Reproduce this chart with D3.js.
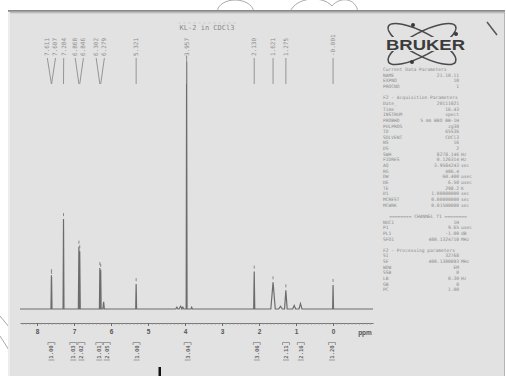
<!DOCTYPE html>
<html><head><meta charset="utf-8">
<script src="https://cdn.jsdelivr.net/npm/d3@7"></script>
<style>body{margin:0;background:#fff}svg{display:block}</style>
</head><body>
<script>
// ---------- data ----------
const title = "KL-2 in CDCl3";
const peakLabels = ["7.611","7.607","7.284","6.868","6.846","6.302","6.279","5.321","3.957","2.130","1.621","1.275","-0.001"];
const peakPpm    = [7.611, 7.607, 7.284, 6.868, 6.846, 6.302, 6.279, 5.321, 3.957, 2.130, 1.621, 1.275, -0.001];
const peakHeight = [38, 36, 101, 70, 65, 46, 44, 28, 278, 42, 30, 21, 27];
const peakWidth  = [0.012,0.012,0.012,0.015,0.015,0.012,0.012,0.012,0.012,0.015,0.06,0.035,0.012];
const minorPpm    = [6.20, 4.22, 4.12, 4.06, 3.82, 1.42, 1.05, 0.88];
const minorHeight = [8, 2, 3, 2, 2, 3, 4, 6];
const minorWidth  = [0.02, 0.03, 0.04, 0.03, 0.02, 0.05, 0.04, 0.04];
const axisTicks = [8,7,6,5,4,3,2,1,0];
const integralPpm    = [7.61, 7.02, 6.80, 6.31, 6.12, 5.31, 3.93, 2.06, 1.27, 0.87, 0.03];
const integralValues = ["1.00","1.03","2.02","1.01","2.05","1.00","3.04","3.06","2.11","2.16","1.20"];
const paramLines = [
  ["Current Data Parameters","",""],
  ["NAME","21.10.11",""],
  ["EXPNO","10",""],
  ["PROCNO","1",""],
  ["","",""],
  ["F2 - Acquisition Parameters","",""],
  ["Date_","20111021",""],
  ["Time","16.43",""],
  ["INSTRUM","spect",""],
  ["PROBHD","5 mm BBO BB-1H",""],
  ["PULPROG","zg30",""],
  ["TD","65536",""],
  ["SOLVENT","CDCl3",""],
  ["NS","16",""],
  ["DS","2",""],
  ["SWH","8278.146","Hz"],
  ["FIDRES","0.126314","Hz"],
  ["AQ","3.9584243","sec"],
  ["RG","406.4",""],
  ["DW","60.400","usec"],
  ["DE","6.50","usec"],
  ["TE","298.2","K"],
  ["D1","1.00000000","sec"],
  ["MCREST","0.00000000","sec"],
  ["MCWRK","0.01500000","sec"],
  ["","",""],
  ["======== CHANNEL f1 ========","",""],
  ["NUC1","1H",""],
  ["P1","9.65","usec"],
  ["PL1","-1.00","dB"],
  ["SFO1","400.1324710","MHz"],
  ["","",""],
  ["F2 - Processing parameters","",""],
  ["SI","32768",""],
  ["SF","400.1300093","MHz"],
  ["WDW","EM",""],
  ["SSB","0",""],
  ["LB","0.30","Hz"],
  ["GB","0",""],
  ["PC","1.00",""]
];

// ---------- drawing ----------
const W = 506, H = 376;
const svg = d3.select("body").append("svg").attr("width", W).attr("height", H);
const mono = "'DejaVu Sans Mono', 'Liberation Mono', monospace";

// watermark strokes outside the page
const wm = svg.append("g").attr("fill","none").attr("stroke","#a8a8a8").attr("stroke-width",1);
wm.append("path").attr("d","M217,12 C219,-4 251,-4 254,12");
wm.append("path").attr("d","M290,12 C296,-3 322,-5 332,6 C340,-4 356,-2 358,12");
wm.append("path").attr("d","M0,316 L9,327");
wm.append("path").attr("d","M0,336 L9,350");

// page
svg.append("rect").attr("x",8).attr("y",11).attr("width",497).attr("height",H-11).attr("fill","#e2e2e2");
const grad = svg.append("defs").append("linearGradient").attr("id","tg").attr("x1",0).attr("x2",0).attr("y1",0).attr("y2",1);
grad.append("stop").attr("offset",0).attr("stop-color","#7c7c7c");
grad.append("stop").attr("offset",1).attr("stop-color","#e2e2e2");
svg.append("rect").attr("x",8).attr("y",10).attr("width",497).attr("height",4).attr("fill","url(#tg)");
svg.append("line").attr("x1",9).attr("x2",9).attr("y1",12).attr("y2",H).attr("stroke","#ededed").attr("stroke-width",2);
svg.append("line").attr("x1",504.5).attr("x2",504.5).attr("y1",12).attr("y2",H).attr("stroke","#b5b5b5").attr("stroke-width",1);

// scales
const x = d3.scaleLinear().domain([8.46, -1.08]).range([20, 373]);
const y = d3.scaleLinear().domain([0, 100]).range([309, 220]);

// spectrum
const all = peakPpm.map((p,i)=>({p, h:peakHeight[i], w:peakWidth[i]}))
  .concat(minorPpm.map((p,i)=>({p, h:minorHeight[i], w:minorWidth[i]})))
  .sort((a,b)=>b.p-a.p);
const pts = [[x.domain()[0],0]];
all.forEach(d=>{ pts.push([d.p+d.w,0],[d.p,d.h],[d.p-d.w,0]); });
pts.push([x.domain()[1],0]);
const line = d3.line().x(d=>x(d[0])).y(d=>y(d[1]));
svg.append("path").attr("d", line(pts)).attr("fill","none").attr("stroke","#6c6c6c").attr("stroke-width",1.2);

// peak-pick markers
peakPpm.forEach((p,i)=>{
  svg.append("line").attr("x1",x(p)).attr("x2",x(p)).attr("y1",y(peakHeight[i])-3).attr("y2",y(peakHeight[i])-6)
    .attr("stroke","#8a8a8a").attr("stroke-width",1);
});

// axis
const axisY = 323;
const minor = d3.range(-10, 85).map(d=>d/10).filter(v=>v<=8.46 && v>=-1.08);
svg.append("g").attr("transform",`translate(0,${axisY})`)
  .call(d3.axisBottom(x).tickValues(minor).tickSize(1.5).tickSizeOuter(0).tickFormat(""))
  .call(g=>{g.select(".domain").attr("stroke","#7a7a7a");g.selectAll("line").attr("stroke","#8a8a8a");});
svg.append("g").attr("transform",`translate(0,${axisY})`)
  .call(d3.axisBottom(x).tickValues(axisTicks).tickSize(3).tickSizeOuter(0).tickPadding(3).tickFormat(d3.format("d")))
  .call(g=>{g.select(".domain").remove();g.selectAll("line").attr("stroke","#6a6a6a");
    g.selectAll("text").attr("font-family","'Liberation Sans',Arial,sans-serif").attr("font-size",6.5).attr("font-weight","bold").attr("fill","#555");});
svg.append("text").attr("x",365).attr("y",axisY+11.5).attr("text-anchor","middle")
  .attr("font-family","'Liberation Sans',Arial,sans-serif").attr("font-size",6.5).attr("font-weight","bold").attr("fill","#555").text("ppm");

// label spreading
function spread(xs, gap){
  let blocks = xs.map((v,i)=>({idx:[i], c:v}));
  const pos = b => b.idx.map((_,k)=>b.c + (k-(b.idx.length-1)/2)*gap);
  let changed = true;
  while(changed){
    changed = false;
    for(let i=1;i<blocks.length;i++){
      const a = blocks[i-1], b = blocks[i];
      const pa = pos(a), pb = pos(b);
      if(pb[0]-pa[pa.length-1] < gap){
        const idx = a.idx.concat(b.idx);
        const c = d3.mean(idx, j=>xs[j]);
        blocks.splice(i-1,2,{idx, c});
        changed = true; break;
      }
    }
  }
  const out = [];
  blocks.forEach(b=>{ pos(b).forEach((v,k)=>out[b.idx[k]]=v); });
  return out;
}

// peak labels
const px = peakPpm.map(p=>x(p));
const lx = spread(px, 8.2);
const lab = svg.append("g");
peakLabels.forEach((t,i)=>{
  lab.append("text").attr("transform",`translate(${lx[i]+2},56) rotate(-90)`)
    .attr("font-family",mono).attr("font-size",6).attr("fill","#8c8c8c").text(t);
  lab.append("line").attr("x1",lx[i]).attr("y1",58).attr("x2",px[i]).attr("y2",84)
    .attr("stroke","#8c8c8c").attr("stroke-width",0.9);
});

// title
svg.append("text").attr("x",207).attr("y",30).attr("text-anchor","middle")
  .attr("font-family",mono).attr("font-size",7).attr("fill","#8a8a8a").text(title);
svg.append("line").attr("x1",178).attr("x2",236).attr("y1",23).attr("y2",23).attr("stroke","#cfcfcf").attr("stroke-width",1).attr("stroke-dasharray","3,2");

// integrals
const ix = integralPpm.map(p=>x(p));
const ilx = spread(ix, 7.5);
const ig = svg.append("g");
integralValues.forEach((t,i)=>{
  const cx = ilx[i];
  ig.append("path").attr("d",`M${cx-3.5},345 V342.5 H${cx+3.5} V345`).attr("fill","none").attr("stroke","#888").attr("stroke-width",0.8);
  ig.append("text").attr("transform",`translate(${cx+2},352) rotate(-90)`).attr("text-anchor","middle")
    .attr("font-family",mono).attr("font-size",5.5).attr("font-weight","bold").attr("fill","#6c6c6c").text(t);
  ig.append("line").attr("x1",cx-3).attr("x2",cx+3).attr("y1",360).attr("y2",360).attr("stroke","#8a8a8a").attr("stroke-width",0.8);
});

// Bruker logo
const logo = svg.append("g");
[28,-28].forEach(a=>{
  logo.append("ellipse").attr("cx",422).attr("cy",44).attr("rx",38).attr("ry",11.5)
    .attr("transform",`rotate(${a},422,44)`).attr("fill","none").attr("stroke","#4a4a4a").attr("stroke-width",1.6);
});
logo.append("rect").attr("x",384).attr("y",37).attr("width",84).attr("height",14).attr("fill","#e2e2e2");
[[413,25],[412,62],[456,34]].forEach(d=>logo.append("circle").attr("cx",d[0]).attr("cy",d[1]).attr("r",2).attr("fill","#3a3a3a"));
logo.append("text").attr("x",386).attr("y",50).attr("textLength",79).attr("lengthAdjust","spacingAndGlyphs")
  .attr("font-family","'Liberation Sans',Arial,sans-serif").attr("font-size",14).attr("font-weight","bold").attr("fill","#3c3c3c").text("BRUKER");
svg.append("line").attr("x1",487).attr("y1",22).attr("x2",497).attr("y2",35).attr("stroke","#555").attr("stroke-width",1.5);

// parameters
const pg = svg.append("g").attr("font-family",mono).attr("font-size",4.6).attr("fill","#8a8a8a");
paramLines.forEach((r,i)=>{
  const yy = 71 + i*5.65;
  if(r[0].startsWith("=")){
    pg.append("text").attr("x",428).attr("y",yy).attr("text-anchor","middle").text(r[0]);
  } else {
    pg.append("text").attr("x",383).attr("y",yy).text(r[0]);
    pg.append("text").attr("x",459).attr("y",yy).attr("text-anchor","end").text(r[1]);
    pg.append("text").attr("x",461).attr("y",yy).text(r[2]);
  }
});

// bottom mark
svg.append("rect").attr("x",158.5).attr("y",367).attr("width",2.5).attr("height",9).attr("fill","#111");
</script>
</body></html>
